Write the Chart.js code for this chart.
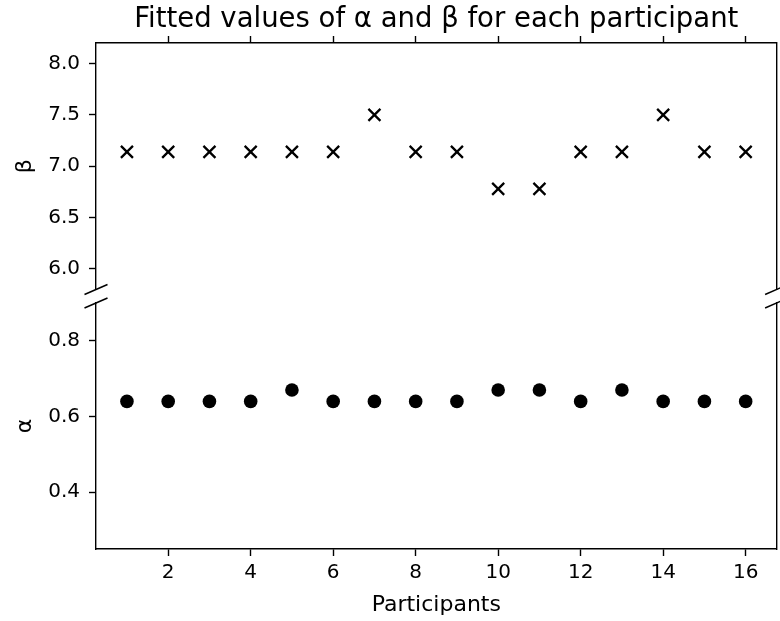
<!DOCTYPE html>
<html>
<head>
<meta charset="utf-8">
<script src="https://cdn.jsdelivr.net/npm/chart.js@4/dist/chart.umd.min.js"></script>
<style>
  html, body { margin: 0; padding: 0; background: #fff; }
  #wrap { position: relative; width: 780px; height: 621px; overflow: hidden; }
  canvas { position: absolute; left: 0; }
  #top { top: 0; }
  #bot { top: 290px; }
</style>
</head>
<body>
<div id="wrap">
  <canvas id="top" width="780" height="300"></canvas>
  <canvas id="bot" width="780" height="331"></canvas>
</div>
<script>
// ---- data ----
const participants = [1, 2, 3, 4, 5, 6, 7, 8, 9, 10, 11, 12, 13, 14, 15, 16];
const betaValues  = [7.14, 7.14, 7.14, 7.14, 7.14, 7.14, 7.5, 7.14, 7.14, 6.78, 6.78, 7.14, 7.14, 7.5, 7.14, 7.14];
const alphaValues = [0.64, 0.64, 0.64, 0.64, 0.67, 0.64, 0.64, 0.64, 0.64, 0.67, 0.67, 0.64, 0.67, 0.64, 0.64, 0.64];
const xTickValues = [2, 4, 6, 8, 10, 12, 14, 16];
const betaTickValues = [6.0, 6.5, 7.0, 7.5, 8.0];
const alphaTickValues = [0.4, 0.6, 0.8];
const xRange = [0.25, 16.75];
const betaRange = [5.8, 8.2];
const alphaRange = [0.25, 0.9];
const titleText = 'Fitted values of α and β for each participant';
const xLabel = 'Participants';
const betaLabel = 'β';
const alphaLabel = 'α';

const FONT = 'DejaVu Sans';
const INK = '#000';
const SPINE_W = 1.4;
const Y_AXIS_W = 96;
const RIGHT_PAD = 3.4;

function breakMarks(where) {
  return {
    id: 'breakMarks_' + where,
    afterDraw(chart) {
      const a = chart.chartArea;
      const y = where === 'bottom' ? a.bottom : a.top;
      const ctx = chart.ctx;
      ctx.save();
      ctx.strokeStyle = INK;
      ctx.lineWidth = 1.5;
      [a.left, a.right].forEach(x => {
        ctx.beginPath();
        ctx.moveTo(x - 11.5, y + 5);
        ctx.lineTo(x + 11.5, y - 5);
        ctx.stroke();
      });
      ctx.restore();
    }
  };
}

function noPad(s) { s.paddingTop = 0; s.paddingBottom = 0; s.paddingLeft = 0; s.paddingRight = 0; }

function yAxis(range, ticks, label) {
  return {
    type: 'linear', position: 'left', min: range[0], max: range[1],
    afterBuildTicks: s => { s.ticks = ticks.map(v => ({ value: v })); },
    afterFit: s => { s.width = Y_AXIS_W; noPad(s); },
    ticks: { callback: v => Number(v).toFixed(1), font: { family: FONT, size: 20 }, color: INK, padding: 9 },
    grid: { drawOnChartArea: false, drawTicks: true, tickLength: 7, color: INK, tickWidth: SPINE_W },
    border: { display: true, color: INK, width: SPINE_W },
    title: { display: true, text: label, color: INK, font: { family: FONT, size: 22 }, padding: { top: 12, bottom: 0 } }
  };
}

function rightSpine(range) {
  return {
    type: 'linear', position: 'right', min: range[0], max: range[1],
    afterFit: s => { s.width = 0; noPad(s); },
    ticks: { display: false },
    grid: { display: false, drawTicks: false },
    border: { display: true, color: INK, width: SPINE_W }
  };
}

// ---- top chart (beta) ----
new Chart(document.getElementById('top'), {
  type: 'scatter',
  data: {
    datasets: [{
      label: betaLabel,
      data: participants.map((p, i) => ({ x: p, y: betaValues[i] })),
      pointStyle: 'crossRot', pointRadius: 8.5, pointHoverRadius: 8.5,
      borderColor: INK, backgroundColor: INK, pointBorderWidth: 2.3,
      xAxisID: 'x', yAxisID: 'y'
    }]
  },
  options: {
    responsive: false, animation: false, devicePixelRatio: 1,
    layout: { autoPadding: false, padding: { top: 0, bottom: 10.5, left: 0, right: RIGHT_PAD } },
    plugins: {
      legend: { display: false }, tooltip: { enabled: false },
      title: { display: true, fullSize: false, text: titleText, color: INK, font: { family: FONT, size: 27.5, weight: 'normal', lineHeight: 1.2 }, padding: { top: 3, bottom: 0 } }
    },
    scales: {
      x: {
        type: 'linear', position: 'top', min: xRange[0], max: xRange[1],
        afterBuildTicks: s => { s.ticks = xTickValues.map(v => ({ value: v })); },
        afterFit: s => { s.height = 7; noPad(s); },
        ticks: { display: false },
        grid: { drawOnChartArea: false, drawTicks: true, tickLength: 7, color: INK, tickWidth: SPINE_W },
        border: { display: true, color: INK, width: SPINE_W }
      },
      y: yAxis(betaRange, betaTickValues, betaLabel),
      yR: rightSpine(betaRange)
    }
  },
  plugins: [breakMarks('bottom')]
});

// ---- bottom chart (alpha) ----
new Chart(document.getElementById('bot'), {
  type: 'scatter',
  data: {
    datasets: [{
      label: alphaLabel,
      data: participants.map((p, i) => ({ x: p, y: alphaValues[i] })),
      pointStyle: 'circle', pointRadius: 6.8, pointHoverRadius: 6.8,
      borderColor: INK, backgroundColor: INK, pointBorderWidth: 0,
      xAxisID: 'x', yAxisID: 'y'
    }]
  },
  options: {
    responsive: false, animation: false, devicePixelRatio: 1,
    layout: { autoPadding: false, padding: { top: 13, bottom: 0, left: 0, right: RIGHT_PAD } },
    plugins: { legend: { display: false }, tooltip: { enabled: false } },
    scales: {
      x: {
        type: 'linear', position: 'bottom', min: xRange[0], max: xRange[1],
        afterBuildTicks: s => { s.ticks = xTickValues.map(v => ({ value: v })); },
        afterFit: s => { s.height = 72; noPad(s); },
        ticks: { font: { family: FONT, size: 20 }, color: INK, padding: 5, maxRotation: 0, autoSkip: false },
        grid: { drawOnChartArea: false, drawTicks: true, tickLength: 7, color: INK, tickWidth: SPINE_W },
        border: { display: true, color: INK, width: SPINE_W },
        title: { display: true, text: xLabel, color: INK, font: { family: FONT, size: 22 }, padding: { top: 0, bottom: 2.5 } }
      },
      y: yAxis(alphaRange, alphaTickValues, alphaLabel),
      yR: rightSpine(alphaRange)
    }
  },
  plugins: [breakMarks('top')]
});
</script>
</body>
</html>
